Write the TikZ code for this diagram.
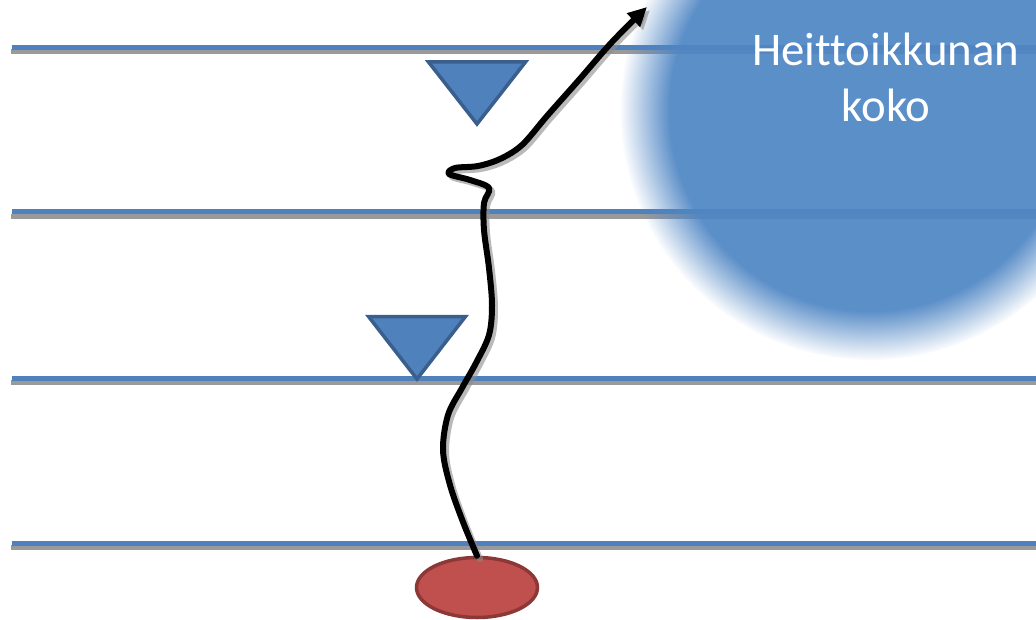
\documentclass[tikz,border=0pt]{standalone}
\usepackage{fontspec}
\newfontfamily\calfont[Ligatures={NoCommon}]{Carlito}
\usetikzlibrary{fadings,arrows.meta,shapes.geometric}
\definecolor{lineblue}{HTML}{4F81BD}
\definecolor{lineshadow}{HTML}{9A9A9A}
\definecolor{triborder}{HTML}{3A5F8D}
\definecolor{discblue}{HTML}{4F86C4}
\definecolor{ballred}{HTML}{C0504D}
\definecolor{ballborder}{HTML}{8C3836}
\tikzset{
  laneline/.style={lineblue, line width=5bp},
  laneshadow/.style={lineshadow, line width=5bp},
  marker/.style={fill=lineblue, draw=triborder, line width=3.5bp, line join=miter},
  throw/.style={black, line width=6bp, line cap=round, line join=round, -{Triangle[length=19bp,width=18bp]}},
  throwshadow/.style={black!45, opacity=0.6, line width=6bp, line cap=round, line join=round, -{Triangle[length=19bp,width=18bp]}},
}
\begin{document}
\begin{tikzpicture}[x=1bp,y=-1bp]
\useasboundingbox (0,0) rectangle (1036,620);
% lanes
\foreach \yy in {47.5,212,378,543}{
  \draw[laneshadow] (11,\yy+4.5) -- (1036,\yy+4.5);
  \draw[laneline] (12,\yy) -- (1036,\yy);
}
% window disc
\fill[discblue, opacity=0.93, path fading=circle with fuzzy edge 20 percent] (870,110) circle[radius=250];
% markers
\draw[marker] (428.5,62) -- (525.5,62) -- (477,124) -- cycle;
\draw[marker] (368.5,316.5) -- (465.5,316.5) -- (417,379) -- cycle;
% ball
\node[ellipse, fill=ballred, draw=ballborder, line width=3.5bp, minimum width=121bp, minimum height=60bp, inner sep=0] (ball) at (477,587.5) {};
\coordinate (tip) at (647,7);
% throw path shadow
\begin{scope}[transform canvas={shift={(3,3)}}]
\draw[throwshadow] plot[smooth,tension=0.55] coordinates {(ball.north) (463,522) (450,485) (443,450) (448,415) (462,388) (476,363) (489,335) (492,305) (489,268) (484,230) (484,203) (489,188) (470,180) (449,174) (455,168) (478,166) (500,159) (522,145) (547,116) (578,81) (612,42) (tip)};
\end{scope}
\draw[throw] plot[smooth,tension=0.55] coordinates {(ball.north) (463,522) (450,485) (443,450) (448,415) (462,388) (476,363) (489,335) (492,305) (489,268) (484,230) (484,203) (489,188) (470,180) (449,174) (455,168) (478,166) (500,159) (522,145) (547,116) (578,81) (612,42) (tip)};
% label
\node[font=\calfont\fontsize{47}{57}\selectfont, text=white, align=center, anchor=base, inner sep=0] (label) at (886,122) {Heittoikkunan\\koko};
\end{tikzpicture}
\end{document}
